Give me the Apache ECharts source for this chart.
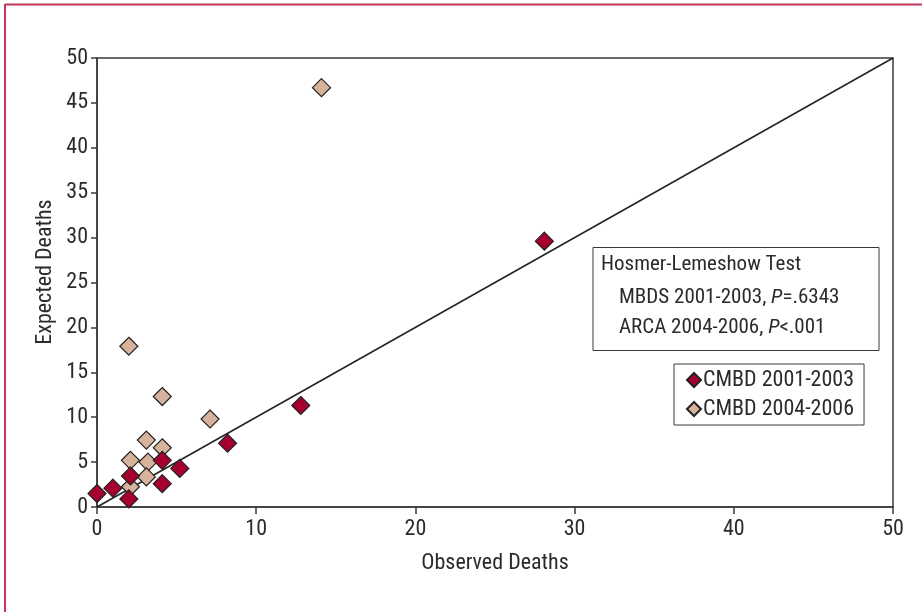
<!DOCTYPE html>
<html>
<head>
<meta charset="utf-8">
<script src="https://cdn.jsdelivr.net/npm/echarts@6/dist/echarts.min.js"></script>
<style>
html,body{margin:0;padding:0;background:#fff;}
#chart{width:922px;height:612px;}
</style>
</head>
<body>
<div id="chart"></div>
<script>
// Data: [observed, expected]
const cmbd2001Observed = [0, 1, 2.1, 2, 4.1, 4.1, 5.2, 8.2, 12.8, 28.1];
const cmbd2001Expected = [1.5, 2.1, 3.45, 0.9, 5.2, 2.6, 4.3, 7.1, 11.3, 29.6];
const cmbd2004Observed = [14.1, 2, 4.1, 7.1, 3.1, 4.1, 2.1, 3.2, 3.1, 2.1];
const cmbd2004Expected = [46.7, 17.9, 12.3, 9.8, 7.45, 6.6, 5.2, 5.0, 3.35, 2.25];
const refLineX = [0, 50];
const refLineY = [0, 50];
const axisTicks = [0, 10, 20, 30, 40, 50];
const seriesNames = ['CMBD 2001-2003', 'CMBD 2004-2006'];
const xAxisTitle = 'Observed Deaths';
const yAxisTitle = 'Expected Deaths';

const zip = (a, b) => a.map((v, i) => [v, b[i]]);
const FONT = '"Roboto Condensed", "DejaVu Sans Condensed", sans-serif';
const FS = 22;
const FSB = 21;
const TXT = '#2b2b2b';

const chart = echarts.init(document.getElementById('chart'), null, {renderer: 'canvas'});
chart.setOption({
  animation: false,
  backgroundColor: '#fff',
  textStyle: {fontFamily: FONT},
  grid: {left: 97, right: 29, top: 58, bottom: 105, show: true, borderColor: '#3a3a3a', borderWidth: 1.5},
  xAxis: {
    type: 'value', min: 0, max: 50, interval: 10,
    name: xAxisTitle, nameLocation: 'middle', nameGap: 45,
    nameTextStyle: {fontFamily: FONT, fontSize: FS, color: TXT},
    axisLine: {show: true, lineStyle: {color: '#3a3a3a', width: 1.5}},
    axisTick: {show: true, length: 7, lineStyle: {color: '#3a3a3a', width: 1.5}},
    axisLabel: {fontFamily: FONT, fontSize: FS, color: TXT, margin: 11,
      formatter: v => axisTicks.includes(v) ? String(v) : ''},
    splitLine: {show: false}
  },
  yAxis: {
    type: 'value', min: 0, max: 50, interval: 5,
    axisLine: {show: true, lineStyle: {color: '#3a3a3a', width: 1.5}},
    axisTick: {show: true, length: 6, lineStyle: {color: '#3a3a3a', width: 1.5}},
    axisLabel: {fontFamily: FONT, fontSize: FS, color: TXT, margin: 9},
    splitLine: {show: false}
  },
  legend: {
    data: seriesNames,
    orient: 'vertical',
    left: 674, top: 364,
    itemGap: 7,
    itemWidth: 14, itemHeight: 14,
    icon: 'diamond',
    padding: [5, 10, 5, 12],
    borderColor: '#3a3a3a', borderWidth: 1,
    textStyle: {fontFamily: FONT, fontSize: FS, color: TXT, padding: [0, 0, 0, -3]}
  },
  series: [
    {
      type: 'line', data: zip(refLineX, refLineY), showSymbol: false, symbol: 'none',
      lineStyle: {color: '#222', width: 1.5}, silent: true, z: 1
    },
    {
      name: seriesNames[0], type: 'scatter', symbol: 'diamond', symbolSize: 18,
      data: zip(cmbd2001Observed, cmbd2001Expected),
      itemStyle: {color: '#a6002f', opacity: 1, borderColor: '#222', borderWidth: 1.2}, z: 3
    },
    {
      name: seriesNames[1], type: 'scatter', symbol: 'diamond', symbolSize: 18,
      data: zip(cmbd2004Observed, cmbd2004Expected),
      itemStyle: {color: '#d7b39c', opacity: 1, borderColor: '#222', borderWidth: 1.2}, z: 2
    }
  ],
  graphic: [
    {type: 'line', shape: {x1: 5, y1: 4.5, x2: 922, y2: 4.5}, style: {stroke: '#c6365c', lineWidth: 2}},
    {type: 'line', shape: {x1: 5, y1: 4, x2: 5, y2: 612}, style: {stroke: '#c6365c', lineWidth: 2}},
    {type: 'text', x: 45, y: 272, rotation: Math.PI / 2,
      style: {text: yAxisTitle, font: FS + 'px ' + FONT, fill: TXT, align: 'center', verticalAlign: 'middle'}},
    {type: 'rect', shape: {x: 593, y: 247.5, width: 286, height: 103},
      style: {fill: '#fff', stroke: '#3a3a3a', lineWidth: 1}},
    {type: 'text', x: 601, y: 265,
      style: {text: 'Hosmer-Lemeshow Test', font: FSB + 'px ' + FONT, fill: TXT, verticalAlign: 'middle'}},
    {type: 'text', x: 619, y: 298,
      style: {
        text: '{n|MBDS 2001-2003, }{i|P}{n|=.6343}', verticalAlign: 'middle',
        rich: {n: {font: FSB + 'px ' + FONT, fill: TXT}, i: {font: 'italic ' + FSB + 'px ' + FONT, fill: TXT}}
      }},
    {type: 'text', x: 619, y: 328,
      style: {
        text: '{n|ARCA 2004-2006, }{i|P}{n|<.001}', verticalAlign: 'middle',
        rich: {n: {font: FSB + 'px ' + FONT, fill: TXT}, i: {font: 'italic ' + FSB + 'px ' + FONT, fill: TXT}}
      }}
  ]
});
</script>
</body>
</html>
